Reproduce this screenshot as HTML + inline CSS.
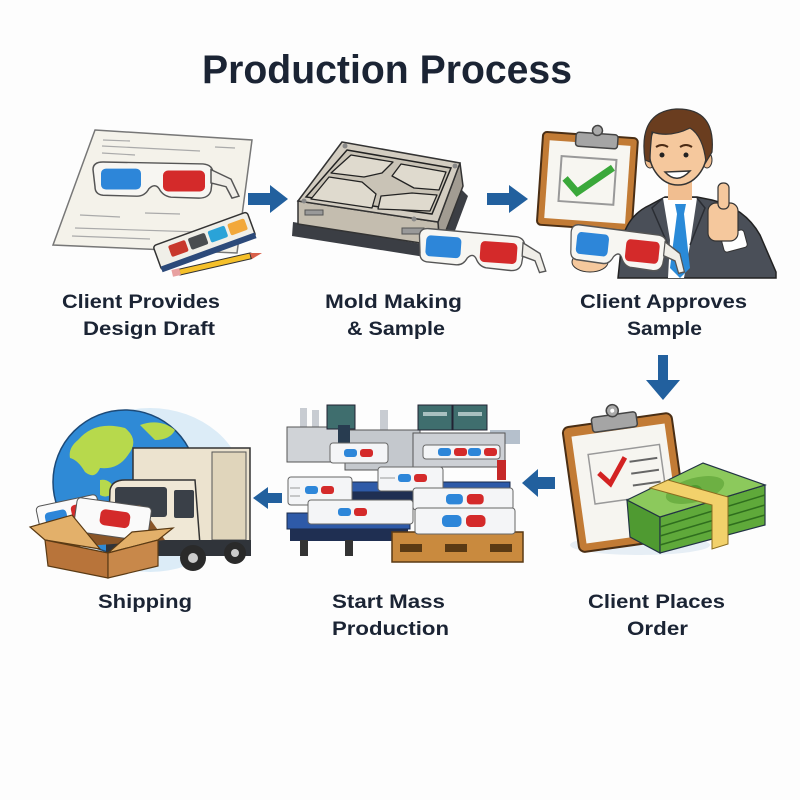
<!DOCTYPE html>
<html><head><meta charset="utf-8">
<style>
html,body{margin:0;padding:0;background:#fff;}
svg{display:block}
text{font-family:"Liberation Sans",sans-serif;font-weight:bold;fill:#1b2434;}
</style></head><body>
<svg width="800" height="800" viewBox="0 0 800 800" xmlns="http://www.w3.org/2000/svg">
<defs>
<g id="gl">
<path d="M0,8 Q0,0 10,0 L110,2 Q120,3 120,12 L118,30 Q116,38 106,38 L78,37 Q70,36 66,28 Q62,22 56,28 Q52,36 44,36 L10,35 Q2,34 2,26 Z" fill="#f7f6f2" stroke="#555" stroke-width="1.5"/>
<rect x="8" y="7" width="40" height="22" rx="5" fill="#2d86d9"/>
<rect x="70" y="9" width="42" height="22" rx="5" fill="#d42a2a"/>
<path d="M118,8 L138,18 L146,36 L139,38 L133,26 L118,22 Z" fill="#f0eee8" stroke="#555" stroke-width="1.5"/>
</g>
<g id="mini">
<rect x="0" y="0" width="13" height="8" rx="3" fill="#2d86d9"/>
<rect x="16" y="0" width="13" height="8" rx="3" fill="#d42a2a"/>
</g>
</defs>
<rect width="800" height="800" fill="#fdfdfd"/>
<text x="202" y="83" font-size="40" textLength="370" lengthAdjust="spacingAndGlyphs">Production Process</text>

<!-- Panel 1: design draft -->
<polygon points="95,130 252,140 237,253 53,245" fill="#f4f2ea" stroke="#777" stroke-width="1.5"/>
<g stroke="#aaa" stroke-width="1.2">
<line x1="103" y1="140" x2="130" y2="141"/><line x1="102" y1="146" x2="200" y2="151"/>
<line x1="102" y1="153" x2="135" y2="155"/><line x1="215" y1="147" x2="235" y2="148"/>
<line x1="80" y1="215" x2="120" y2="217"/><line x1="75" y1="228" x2="200" y2="232"/>
<line x1="72" y1="236" x2="150" y2="239"/><line x1="145" y1="213" x2="180" y2="214"/>
</g>
<use href="#gl" transform="translate(93,162) scale(1.0,0.95)"/>
<g transform="translate(153,246) rotate(-20)">
<rect x="0" y="0" width="100" height="26" rx="3" fill="#f0efe8" stroke="#333" stroke-width="1.5"/>
<rect x="0" y="22" width="100" height="6" fill="#2c4a7a"/>
<rect x="14" y="5" width="18" height="12" rx="2" fill="#c8382c"/>
<rect x="35" y="5" width="18" height="12" rx="2" fill="#4a4d50"/>
<rect x="56" y="5" width="18" height="12" rx="2" fill="#2aa3d8"/>
<rect x="77" y="5" width="18" height="12" rx="2" fill="#f2a83a"/>
</g>
<line x1="180" y1="272" x2="250" y2="256" stroke="#333" stroke-width="7" stroke-linecap="round"/>
<line x1="180" y1="272" x2="250" y2="256" stroke="#f5c02a" stroke-width="5"/>
<polygon points="250,253 262,253 252,259" fill="#d8604a"/>
<rect x="172" y="269" width="8" height="7" fill="#e8a0a0" transform="rotate(-13 176 272)"/>

<!-- Arrow 1 -->
<polygon points="248,193 270,193 270,185 288,199 270,213 270,205 248,205" fill="#22609e"/>

<!-- Panel 2: mold -->
<polygon points="293,222 440,247 462,190 468,196 444,260 292,236" fill="#3b3e44"/>
<polygon points="298,201 438,222 440,246 298,224" fill="#c4bdaf" stroke="#333" stroke-width="1.5"/>
<polygon points="438,222 460,163 463,186 440,246" fill="#a29c92" stroke="#333" stroke-width="1.5"/>
<polygon points="342,142 460,163 438,222 298,201" fill="#d3cdc1" stroke="#333" stroke-width="1.5"/>
<polygon points="347,150 451,168 432,214 306,197" fill="#c9c3b6" stroke="#222" stroke-width="1.5"/>
<g fill="#dfdace" stroke="#222" stroke-width="1.3" stroke-linejoin="round">
<polygon points="351,155 393,162 382,173 364,177 331,173"/>
<polygon points="401,164 446,172 439,190 414,188 392,176"/>
<polygon points="329,177 362,182 376,194 372,208 311,199"/>
<polygon points="381,196 412,193 437,195 430,211 378,209"/>
</g>
<rect x="305" y="210" width="18" height="5" fill="#999" stroke="#555"/>
<rect x="402" y="228" width="22" height="6" fill="#999" stroke="#555"/>
<circle cx="345" cy="146" r="2.5" fill="#888"/><circle cx="455" cy="166" r="2.5" fill="#888"/>
<circle cx="304" cy="201" r="2.5" fill="#888"/><circle cx="414" cy="219" r="2.5" fill="#888"/>
<use href="#gl" transform="translate(420,228) rotate(4) scale(0.88,0.95)"/>

<!-- Arrow 2 -->
<polygon points="487,193 509,193 509,185 528,199 509,213 509,205 487,205" fill="#22609e"/>

<!-- Panel 3: clipboard + man -->
<g transform="rotate(4 588 180)">
<rect x="540" y="135" width="95" height="93" rx="4" fill="#c27b35" stroke="#4a2e14" stroke-width="2"/>
<rect x="547" y="143" width="81" height="78" fill="#f7f6f1"/>
<rect x="560" y="158" width="55" height="45" fill="none" stroke="#999" stroke-width="2"/>
<polyline points="565,180 578,193 612,166" fill="none" stroke="#3aa83a" stroke-width="7"/>
<rect x="573" y="133" width="42" height="14" rx="3" fill="#a5a5a5" stroke="#444" stroke-width="1.5"/>
<circle cx="594" cy="130" r="5" fill="#aaa" stroke="#444" stroke-width="1.5"/>
</g>
<path d="M618,278 L622,240 Q628,215 650,205 L665,197 L697,197 L712,200 Q745,208 760,235 L776,272 L776,278 Z" fill="#4a4f58" stroke="#222" stroke-width="1.5"/>
<polygon points="663,198 697,198 690,245 684,278 668,278 670,240" fill="#ffffff"/>
<polygon points="675,204 686,204 684,214 690,268 680,278 670,268 677,214" fill="#2a8ad8"/>
<path d="M663,198 L652,208 L668,245 M697,198 L705,208 L690,245" fill="none" stroke="#2a2d33" stroke-width="1.5"/>
<rect x="668" y="178" width="24" height="22" fill="#f1be90"/>
<ellipse cx="650" cy="160" rx="5" ry="8" fill="#f1be90" stroke="#333"/>
<ellipse cx="707" cy="160" rx="5" ry="8" fill="#f1be90" stroke="#333"/>
<ellipse cx="678" cy="150" rx="29" ry="35" fill="#f5c89d" stroke="#333" stroke-width="1.5"/>
<path d="M645,160 Q638,112 676,109 Q716,108 712,152 L706,162 Q703,136 690,128 Q670,138 652,132 Q650,150 650,162 Z" fill="#6a3d1f" stroke="#333" stroke-width="1.2"/>
<circle cx="662" cy="155" r="2.5" fill="#222"/><circle cx="686" cy="155" r="2.5" fill="#222"/>
<path d="M656,147 Q662,143 668,147 M680,147 Q686,143 692,147" fill="none" stroke="#4a2a14" stroke-width="2"/>
<path d="M665,172 Q677,185 690,171 Z" fill="#fff" stroke="#333" stroke-width="1.5"/>
<rect x="722" y="232" width="24" height="18" rx="3" fill="#fff" stroke="#333" transform="rotate(-15 734 241)"/>
<rect x="708" y="203" width="30" height="38" rx="8" fill="#f5c89d" stroke="#333" stroke-width="1.2"/>
<rect x="718" y="183" width="11" height="26" rx="5" fill="#f5c89d" stroke="#333" stroke-width="1.2"/>
<ellipse cx="590" cy="262" rx="18" ry="10" fill="#f5c89d" stroke="#333"/>
<use href="#gl" transform="translate(572,224) rotate(6) scale(0.8,1)"/>

<!-- Down arrow -->
<polygon points="658,355 668,355 668,380 680,380 663,400 646,380 658,380" fill="#22609e"/>

<!-- Panel 4: clipboard + money -->
<ellipse cx="640" cy="545" rx="70" ry="10" fill="#e6eef5"/>
<g transform="rotate(-8 622 480)">
<rect x="570" y="420" width="110" height="126" rx="6" fill="#c27b35" stroke="#4a2e14" stroke-width="2"/>
<rect x="578" y="430" width="94" height="108" fill="#f6f5f0"/>
<rect x="592" y="450" width="72" height="50" fill="none" stroke="#999" stroke-width="1.5"/>
<polyline points="600,470 610,482 628,458" fill="none" stroke="#d32222" stroke-width="5"/>
<g stroke="#666" stroke-width="2"><line x1="632" y1="463" x2="660" y2="463"/><line x1="632" y1="475" x2="660" y2="475"/><line x1="632" y1="487" x2="660" y2="487"/></g>
<rect x="600" y="414" width="45" height="15" rx="3" fill="#a5a5a5" stroke="#444" stroke-width="1.5"/>
<circle cx="622" cy="410" r="6" fill="#aaa" stroke="#444" stroke-width="1.5"/>
<circle cx="622" cy="410" r="2" fill="#fff"/>
</g>
<polygon points="627,500 660,517 660,553 630,537" fill="#4f9a31" stroke="#234" stroke-width="1.2"/>
<polygon points="660,517 765,485 765,525 660,553" fill="#5fa93a" stroke="#234" stroke-width="1.2"/>
<g stroke="#2f6e1e" stroke-width="1.5"><line x1="660" y1="527" x2="765" y2="495"/><line x1="660" y1="536" x2="765" y2="505"/><line x1="660" y1="545" x2="765" y2="515"/></g>
<polygon points="627,500 703,463 765,485 660,517" fill="#8cc95c" stroke="#234" stroke-width="1.2"/>
<ellipse cx="695" cy="490" rx="30" ry="12" fill="#6db043" transform="rotate(-15 695 490)"/>
<ellipse cx="695" cy="490" rx="7" ry="5" fill="#4e9a31"/>
<polygon points="650,488 668,480 728,497 728,544 712,549 712,505" fill="#f2d16b" stroke="#8a6d20" stroke-width="1"/>

<!-- Arrow right->left (5 to 6) -->
<polygon points="555,477 538,477 538,469 522,483 538,497 538,489 555,489" fill="#22609e"/>

<!-- Panel 5: mass production -->
<rect x="300" y="408" width="7" height="22" fill="#c8ccd2"/><rect x="312" y="410" width="7" height="20" fill="#c8ccd2"/>
<rect x="380" y="410" width="8" height="20" fill="#c8ccd2"/>
<rect x="490" y="430" width="30" height="14" fill="#b5c0cc"/>
<rect x="287" y="427" width="60" height="35" fill="#d0d3d7" stroke="#555"/>
<rect x="345" y="430" width="75" height="40" fill="#c4c8cd" stroke="#555"/>
<rect x="327" y="405" width="28" height="24" fill="#3f6e6e" stroke="#223"/>
<rect x="338" y="425" width="12" height="18" fill="#283c50"/>
<rect x="418" y="405" width="34" height="25" fill="#3f6e6e" stroke="#223"/>
<rect x="453" y="405" width="34" height="25" fill="#3f6e6e" stroke="#223"/>
<rect x="423" y="412" width="24" height="4" fill="#a8c0c0"/><rect x="458" y="412" width="24" height="4" fill="#a8c0c0"/>
<rect x="413" y="433" width="92" height="34" fill="#cdd0d5" stroke="#555"/>
<rect x="497" y="460" width="9" height="20" fill="#c62828"/>
<rect x="350" y="482" width="160" height="10" fill="#2e5aa8" stroke="#1a2a4a"/>
<rect x="352" y="492" width="120" height="16" fill="#1f2f52"/>
<rect x="330" y="443" width="58" height="20" rx="3" fill="#f4f5f7" stroke="#666"/>
<use href="#mini" transform="translate(344,449)"/>
<rect x="423" y="445" width="77" height="14" rx="3" fill="#f4f5f7" stroke="#666"/>
<use href="#mini" transform="translate(438,448)"/><use href="#mini" transform="translate(468,448)"/>
<rect x="378" y="467" width="65" height="24" rx="3" fill="#f4f5f7" stroke="#666"/>
<line x1="380" y1="478" x2="395" y2="478" stroke="#999"/>
<use href="#mini" transform="translate(398,474)"/>
<rect x="287" y="513" width="123" height="16" fill="#2e5aa8" stroke="#1a2a4a"/>
<rect x="290" y="529" width="118" height="12" fill="#1f2f52"/>
<rect x="300" y="540" width="8" height="16" fill="#333"/><rect x="345" y="540" width="8" height="16" fill="#333"/><rect x="395" y="540" width="8" height="16" fill="#333"/>
<rect x="288" y="477" width="64" height="28" rx="3" fill="#f4f5f7" stroke="#666"/>
<line x1="290" y1="488" x2="300" y2="488" stroke="#999"/><line x1="290" y1="496" x2="300" y2="496" stroke="#999"/>
<use href="#mini" transform="translate(305,486)"/>
<rect x="308" y="500" width="105" height="24" rx="3" fill="#f4f5f7" stroke="#666"/>
<use href="#mini" transform="translate(338,508)"/>
<rect x="392" y="532" width="131" height="30" fill="#c98a3e" stroke="#5a3a14" stroke-width="1.5"/>
<rect x="400" y="544" width="22" height="8" fill="#5a3a14"/><rect x="445" y="544" width="22" height="8" fill="#5a3a14"/><rect x="490" y="544" width="22" height="8" fill="#5a3a14"/>
<rect x="413" y="488" width="100" height="22" rx="3" fill="#f4f5f7" stroke="#666"/>
<rect x="415" y="508" width="100" height="26" rx="3" fill="#f4f5f7" stroke="#666"/>
<g transform="translate(446,494) scale(1.3)"><use href="#mini"/></g>
<g transform="translate(442,515) scale(1.5)"><use href="#mini"/></g>

<!-- Arrow (mass -> shipping) -->
<polygon points="282,493 268,493 268,487 253,498 268,509 268,503 282,503" fill="#22609e"/>

<!-- Panel 6: shipping -->
<ellipse cx="150" cy="490" rx="95" ry="82" fill="#dcecf7"/>
<circle cx="125" cy="482" r="72" fill="#2f8ad6" stroke="#1d4a78" stroke-width="1.5"/>
<path d="M78,440 Q95,420 125,428 Q140,440 128,455 Q118,470 100,468 Q95,480 85,472 Q78,460 70,458 Q68,448 78,440 Z" fill="#b7d94c"/>
<path d="M140,425 Q160,418 175,430 Q170,440 155,440 Z" fill="#b7d94c"/>
<path d="M100,480 Q110,478 115,490 Q108,500 100,495 Z" fill="#b7d94c"/>
<rect x="133" y="448" width="117" height="95" fill="#ece3cf" stroke="#333" stroke-width="1.5"/>
<rect x="212" y="452" width="34" height="88" fill="#e0d5bb" stroke="#555"/>
<path d="M108,545 L110,490 Q112,480 125,480 L195,480 L200,545 Z" fill="#f0e8d6" stroke="#333" stroke-width="1.5"/>
<rect x="115" y="487" width="52" height="30" rx="3" fill="#3a4048"/>
<rect x="174" y="490" width="20" height="28" rx="2" fill="#3a4048"/>
<rect x="106" y="540" width="145" height="16" fill="#30343a"/>
<circle cx="193" cy="558" r="13" fill="#2a2a2a"/><circle cx="193" cy="558" r="5" fill="#ccc"/>
<circle cx="235" cy="553" r="11" fill="#2a2a2a"/><circle cx="235" cy="553" r="4" fill="#ccc"/>
<polygon points="40,515 140,505 165,540 60,548" fill="#8a5527"/>
<g transform="rotate(-12 70 515)"><rect x="38" y="500" width="62" height="32" rx="4" fill="#fafafa" stroke="#555"/><rect x="45" y="508" width="22" height="14" rx="4" fill="#2d86d9"/><rect x="72" y="506" width="22" height="14" rx="4" fill="#d42a2a"/></g>
<g transform="rotate(8 110 518)"><rect x="75" y="502" width="75" height="34" rx="4" fill="#fafafa" stroke="#555"/><rect x="100" y="510" width="30" height="16" rx="5" fill="#d42a2a"/></g>
<polygon points="45,540 30,527 72,515 100,549" fill="#e3b06a" stroke="#5a3a14" stroke-width="1.2"/>
<polygon points="108,553 158,540 173,528 132,532" fill="#e3b06a" stroke="#5a3a14" stroke-width="1.2"/>
<polygon points="45,540 108,553 108,578 48,566" fill="#b8743a" stroke="#5a3a14" stroke-width="1.2"/>
<polygon points="108,553 158,540 158,566 108,578" fill="#c8884a" stroke="#5a3a14" stroke-width="1.2"/>

<!-- Labels -->
<g font-size="19" text-anchor="middle">
<text x="141" y="308" textLength="158" lengthAdjust="spacingAndGlyphs">Client Provides</text>
<text x="149" y="335" textLength="132" lengthAdjust="spacingAndGlyphs">Design Draft</text>
<text x="393.5" y="308" textLength="137" lengthAdjust="spacingAndGlyphs">Mold Making</text>
<text x="396" y="335" textLength="98" lengthAdjust="spacingAndGlyphs">&amp; Sample</text>
<text x="663.5" y="308" textLength="167" lengthAdjust="spacingAndGlyphs">Client Approves</text>
<text x="664.5" y="335" textLength="75" lengthAdjust="spacingAndGlyphs">Sample</text>
<text x="656.5" y="608" textLength="137" lengthAdjust="spacingAndGlyphs">Client Places</text>
<text x="657.5" y="635" textLength="61" lengthAdjust="spacingAndGlyphs">Order</text>
<text x="145" y="608" textLength="94" lengthAdjust="spacingAndGlyphs">Shipping</text>
<text x="388.5" y="608" textLength="113" lengthAdjust="spacingAndGlyphs">Start Mass</text>
<text x="390.5" y="635" textLength="117" lengthAdjust="spacingAndGlyphs">Production</text>
</g>
</svg>
</body></html>
